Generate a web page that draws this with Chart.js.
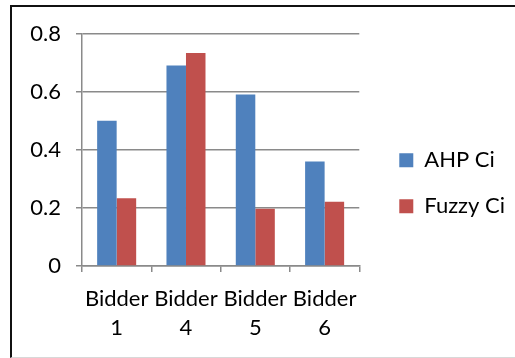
<!DOCTYPE html>
<html>
<head>
<meta charset="utf-8">
<script src="https://cdn.jsdelivr.net/npm/chart.js@4/dist/chart.umd.min.js"></script>
<style>
  html, body { margin: 0; padding: 0; background: #fff; }
  #wrap { position: relative; width: 515px; height: 358px; overflow: hidden; }
  #frame {
    position: absolute; left: 10px; top: 5px; width: 600px; height: 350px;
    border-top: 2px solid #111; border-left: 2px solid #111;
    border-bottom: 1px solid #d8d8d8; pointer-events: none;
  }
  canvas { position: absolute; left: 0; top: 0; }
</style>
</head>
<body>
<div id="wrap">
  <canvas id="c" width="515" height="358"></canvas>
  <div id="frame"></div>
</div>
<script>
// Closeness coefficients per bidder under the two methods
const bidders = [["Bidder", "1"], ["Bidder", "4"], ["Bidder", "5"], ["Bidder", "6"]];
const ahpCi = [0.50, 0.69, 0.59, 0.36];
const fuzzyCi = [0.233, 0.733, 0.197, 0.221];
const yTicks = [0, 0.2, 0.4, 0.6, 0.8];

const FONT = "Lato";
const gridColor = "#8a8a8a";

// invisible axis used only to reserve space around the plot
const spacer = (position, size) => ({
  type: "linear",
  position,
  display: true,
  grid: { display: false },
  border: { display: false },
  ticks: { display: false },
  afterFit: s => {
    if (position === "top" || position === "bottom") s.height = size; else s.width = size;
  }
});

new Chart(document.getElementById("c"), {
  type: "bar",
  data: {
    labels: bidders,
    datasets: [
      { label: "AHP Ci", data: ahpCi, backgroundColor: "#4f81bd", xAxisID: "x", yAxisID: "y" },
      { label: "Fuzzy Ci", data: fuzzyCi, backgroundColor: "#c0504d", xAxisID: "x", yAxisID: "y" }
    ]
  },
  options: {
    responsive: false,
    devicePixelRatio: 1,
    animation: false,
    events: [],
    layout: { padding: { left: 0, top: 8.5, right: 0, bottom: 0 } },
    datasets: { bar: { categoryPercentage: 0.563, barPercentage: 1 } },
    plugins: {
      tooltip: { enabled: false },
      legend: {
        position: "right",
        align: "center",
        maxWidth: 220,
        labels: {
          boxWidth: 14, boxHeight: 14, padding: 24,
          color: "#000",
          font: { family: FONT, size: 22 }
        }
      }
    },
    scales: {
      x: {
        type: "category",
        position: "bottom",
        grid: { display: true, drawOnChartArea: false, drawTicks: true, tickLength: 6, color: gridColor, lineWidth: 1.5 },
        border: { display: true, color: gridColor, width: 1.5 },
        ticks: { color: "#000", font: { family: FONT, size: 22, lineHeight: 1.3 }, padding: 13, maxRotation: 0, autoSkip: false },
        afterFit: s => { s.height = 92; }
      },
      y: {
        type: "linear",
        position: "left",
        min: 0, max: 0.8,
        afterBuildTicks: s => { s.ticks = yTicks.map(v => ({ value: v })); },
        grid: { color: gridColor, lineWidth: 1.5, drawTicks: true, tickLength: 6 },
        border: { display: true, color: gridColor, width: 1.5 },
        ticks: { color: "#000", font: { family: FONT, size: 22 }, padding: 15, callback: v => String(v) },
        afterFit: s => { s.width = 82; }
      },
      gapRight: spacer("right", 16),
      gapTop: spacer("top", 25)
    }
  }
});
</script>
</body>
</html>
